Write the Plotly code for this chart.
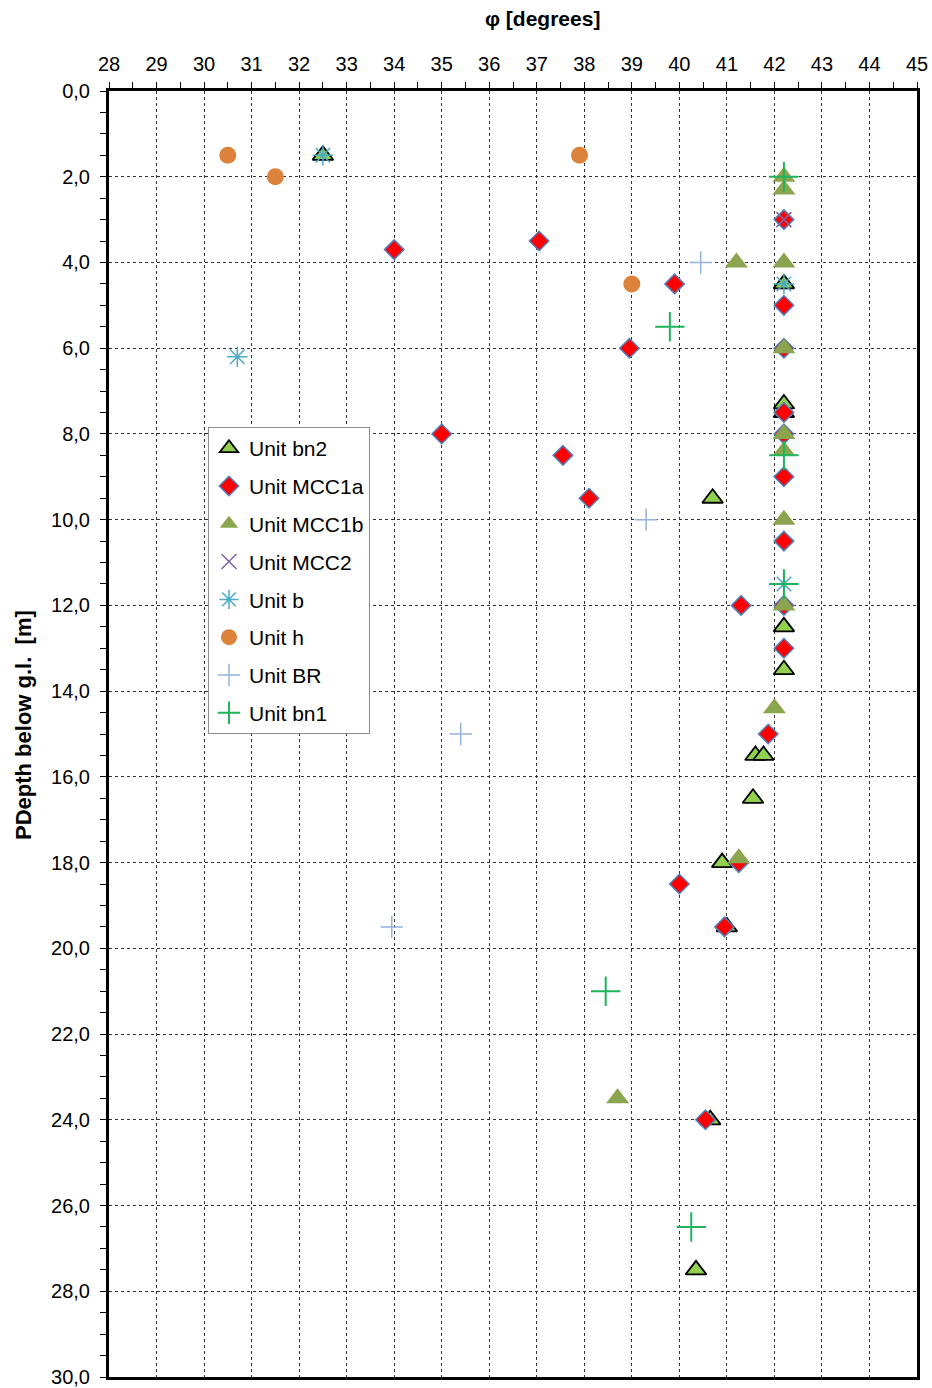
import plotly.graph_objects as go

# Friction angle (phi, degrees) against depth below ground level (m) per unit
bn2_phi = [32.5, 42.2, 42.2, 42.2, 40.7, 42.2, 42.2, 41.6, 41.77, 41.55, 40.9, 41.0, 40.65, 40.35]
bn2_depth = [1.5, 4.5, 7.3, 7.5, 9.5, 12.5, 13.5, 15.5, 15.5, 16.5, 18.0, 19.5, 24.0, 27.5]

mcc1a_phi = [34.0, 37.05, 39.9, 38.95, 35.0, 37.55, 38.1, 41.3, 42.2, 42.2, 42.2, 42.2, 42.2,
             42.2, 42.2, 42.2, 42.2, 41.87, 41.25, 40.0, 40.95, 40.55]
mcc1a_depth = [3.7, 3.5, 4.5, 6.0, 8.0, 8.5, 9.5, 12.0, 3.0, 5.0, 6.0, 7.5, 8.0,
               9.0, 10.5, 12.0, 13.0, 15.0, 18.0, 18.5, 19.5, 24.0]

mcc1b_phi = [42.2, 42.2, 41.2, 42.2, 42.2, 42.2, 42.2, 42.2, 42.2, 42.0, 41.25, 38.7]
mcc1b_depth = [2.0, 2.3, 4.0, 4.0, 6.0, 8.0, 8.4, 10.0, 12.0, 14.4, 17.9, 23.5]

mcc2_phi = [42.2]
mcc2_depth = [3.0]

b_phi = [32.5, 30.7, 42.2, 42.2]
b_depth = [1.5, 6.2, 4.5, 11.5]

h_phi = [30.5, 31.5, 37.9, 39.0]
h_depth = [1.5, 2.0, 1.5, 4.5]

br_phi = [40.45, 39.3, 35.4, 33.95]
br_depth = [4.0, 10.0, 15.0, 19.5]

bn1_phi = [42.2, 39.8, 42.2, 42.2, 38.45, 40.25]
bn1_depth = [2.0, 5.5, 8.5, 11.5, 21.0, 26.5]

FONT = "Liberation Sans, Arial, sans-serif"

series = [
    ("Unit bn2", bn2_phi, bn2_depth,
     dict(symbol="triangle-up", size=18, color="#92d050", line=dict(color="black", width=1.8))),
    ("Unit MCC1a", mcc1a_phi, mcc1a_depth,
     dict(symbol="diamond", size=15, color="#ff0000", line=dict(color="#4f81bd", width=1.5))),
    ("Unit MCC1b", mcc1b_phi, mcc1b_depth,
     dict(symbol="triangle-up", size=20, color="#8ba54e", line=dict(width=0))),
    ("Unit MCC2", mcc2_phi, mcc2_depth,
     dict(symbol="x-thin", size=15, color="#8064a2", line=dict(color="#8064a2", width=1.5))),
    ("Unit b", b_phi, b_depth,
     dict(symbol="asterisk-open", size=17, color="#4bacc6", line=dict(color="#4bacc6", width=1.5))),
    ("Unit h", h_phi, h_depth,
     dict(symbol="circle", size=17, color="#dd823b", line=dict(width=0))),
    ("Unit BR", br_phi, br_depth,
     dict(symbol="cross-thin", size=16, color="#95b3d7", line=dict(color="#95b3d7", width=1.5))),
    ("Unit bn1", bn1_phi, bn1_depth,
     dict(symbol="cross-thin", size=21, color="#1fb35c", line=dict(color="#1fb35c", width=2))),
]

fig = go.Figure()
for i, (name, xs, ys, marker) in enumerate(series):
    fig.add_trace(go.Scatter(
        x=xs, y=ys, mode="markers", name=name, marker=marker,
        legendgroup=f"g{i}", cliponaxis=False,
    ))

fig.update_layout(
    width=932, height=1388,
    margin=dict(l=109, r=15, t=91, b=11, autoexpand=False),
    paper_bgcolor="white", plot_bgcolor="white",
    separators=",.",
    font=dict(family=FONT, size=20, color="black"),
    showlegend=True,
    legend=dict(
        x=0.1225, y=0.7387, xanchor="left", yanchor="top",
        bgcolor="white", bordercolor="#8c8c8c", borderwidth=1,
        font=dict(family=FONT, size=21, color="black"),
        tracegroupgap=7.5, itemsizing="trace", itemwidth=30,
    ),
    xaxis=dict(
        side="top", range=[28, 45], dtick=1, tick0=28,
        showline=True, linecolor="black", linewidth=3, mirror=True,
        showgrid=True, gridcolor="#333333", griddash="dot", gridwidth=1,
        ticks="outside", ticklen=6, tickcolor="black", tickwidth=1,
        minor=dict(dtick=0.5, ticks="outside", ticklen=6, tickcolor="black", showgrid=False),
        zeroline=False, tickfont=dict(size=20), ticklabelstandoff=3,
    ),
    yaxis=dict(
        range=[30, 0], dtick=2, tick0=0, tickformat=".1f",
        showline=True, linecolor="black", linewidth=3, mirror=True,
        showgrid=True, gridcolor="#333333", griddash="dot", gridwidth=1,
        ticks="outside", ticklen=6, tickcolor="black", tickwidth=1,
        minor=dict(dtick=0.5, ticks="outside", ticklen=6, tickcolor="black", showgrid=False),
        zeroline=False, tickfont=dict(size=20), ticklabelstandoff=6,
    ),
    annotations=[
        dict(text="<b>φ [degrees]</b>", xref="paper", yref="paper",
             x=0.537, y=1.0, yshift=73, xanchor="center", yanchor="middle",
             showarrow=False, font=dict(size=21)),
        dict(text="<b>PDepth below g.l.  [m]</b>", xref="paper", yref="paper",
             x=0.0, xshift=-86, y=0.5, yshift=9, xanchor="center", yanchor="middle",
             textangle=-90, showarrow=False, font=dict(size=22)),
    ],
)

fig.write_html("out.html")
